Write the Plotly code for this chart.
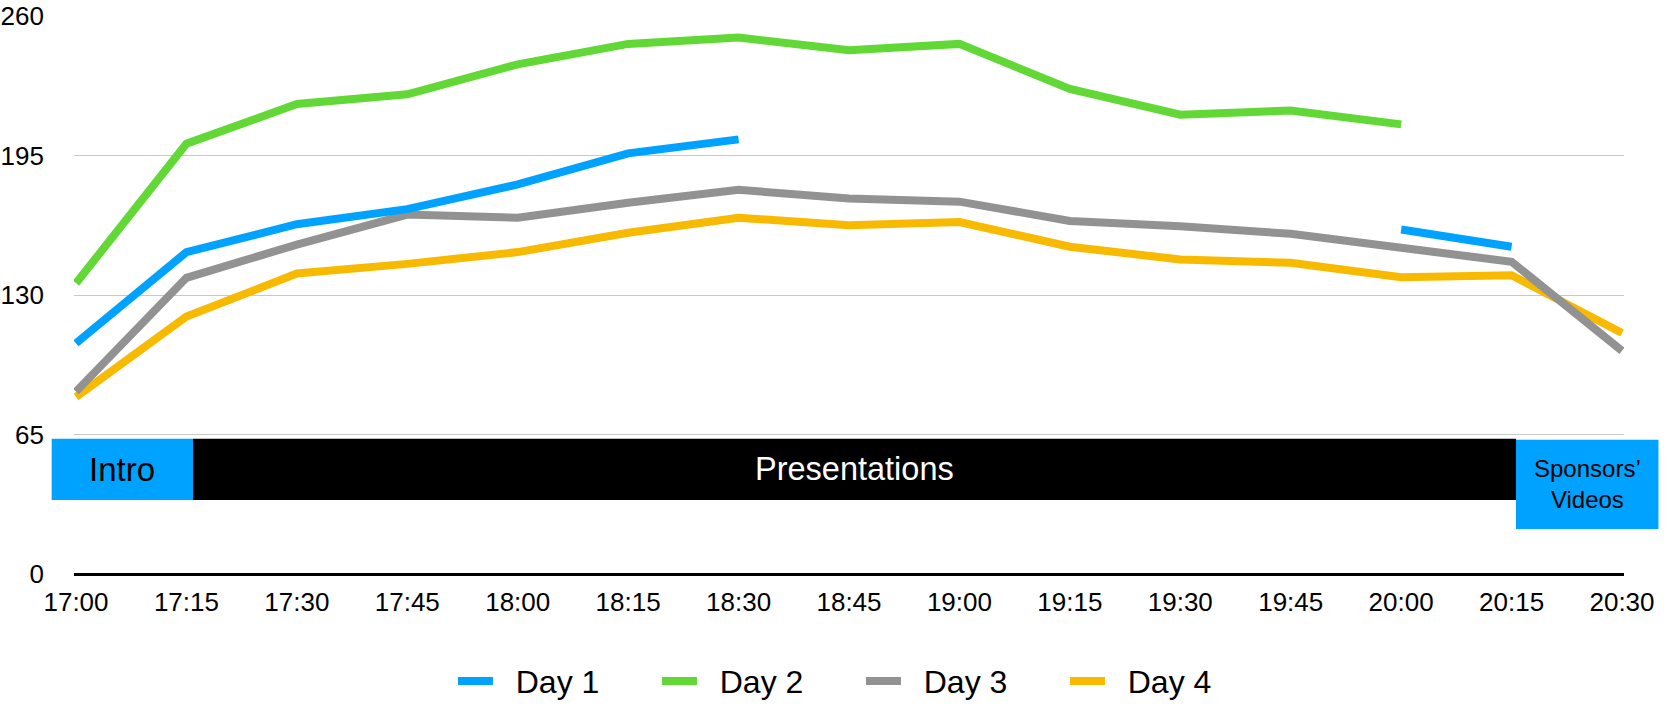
import plotly.graph_objects as go

times = ["17:00", "17:15", "17:30", "17:45", "18:00", "18:15", "18:30", "18:45",
         "19:00", "19:15", "19:30", "19:45", "20:00", "20:15", "20:30"]
day1 = [107.5, 150, 163, 170, 181.5, 196, 202.5, None, None, None, None, None, 160.5, 152.5, None]
day2 = [135.5, 200.5, 219, 223.5, 237.5, 247, 250, 244, 247, 226, 214, 216, 209.5, None, None]
day3 = [85, 138, 153.5, 167.5, 166, 173, 179, 175, 173.5, 164.5, 162, 158.5, 152, 145.5, 104]
day4 = [82.5, 120, 140, 144.5, 150, 159, 166, 162.5, 164, 152.5, 146.5, 145, 138.3, 139.2, 112.3]
y_ticks = [0, 65, 130, 195, 260]

# programme phases (x in time-slot index units)
phase_names = ["Intro", "Presentations", "Sponsors’<br>Videos"]
phase_edges = [-0.22, 1.06, 13.04, 14.33]
phase_top = [63, 63, 62.5]
phase_bottom = [34.5, 34.5, 21]
phase_fill = ["#00A2FF", "#000000", "#00A2FF"]
phase_text_color = ["#000000", "#FFFFFF", "#000000"]
phase_text_size = [33, 32.5, 24]

series = [("Day 4", day4, "#F8BA00"), ("Day 3", day3, "#929292"),
          ("Day 2", day2, "#61D836"), ("Day 1", day1, "#00A2FF")]

FONT = "Liberation Sans, Arial, Helvetica, sans-serif"
XR = [-0.018, len(times) - 1 + 0.018]
YR = [0, 260]
NB = "\u00a0\u00a0"

fig = go.Figure()
for name, vals, col in series:
    fig.add_trace(go.Scatter(x=list(range(len(times))), y=vals, name=NB + name, mode="lines",
                             line=dict(color=col, width=8), connectgaps=False,
                             hoverinfo="skip"))

def xd(v):
    return (v - XR[0]) / (XR[1] - XR[0])

def yd(v):
    return (v - YR[0]) / (YR[1] - YR[0])

for i, nm in enumerate(phase_names):
    x0, x1 = phase_edges[i], phase_edges[i + 1]
    fig.add_shape(type="rect", xref="x domain", yref="y domain",
                  x0=xd(x0), x1=xd(x1), y0=yd(phase_bottom[i]), y1=yd(phase_top[i]),
                  fillcolor=phase_fill[i], line=dict(width=0), layer="above")
    fig.add_annotation(xref="x domain", yref="y domain",
                       x=xd((x0 + x1) / 2), y=yd((phase_bottom[i] + phase_top[i]) / 2),
                       text=nm, showarrow=False, xanchor="center", yanchor="middle",
                       font=dict(family=FONT, size=phase_text_size[i], color=phase_text_color[i]))

fig.update_layout(
    template="none",
    width=1680, height=707, autosize=False,
    margin=dict(l=74, r=56, t=16, b=133, autoexpand=False),
    paper_bgcolor="white", plot_bgcolor="white",
    font=dict(family=FONT, color="#000000"),
    showlegend=True,
    legend=dict(orientation="h", x=0.2445, xanchor="left", y=-0.192, yanchor="middle",
                traceorder="reversed", font=dict(size=32, family=FONT),
                itemwidth=35, entrywidth=154, entrywidthmode="pixels",
                bgcolor="rgba(0,0,0,0)", borderwidth=0),
    xaxis=dict(range=XR, tickvals=list(range(len(times))), ticktext=times,
               showgrid=False, zeroline=False, showline=False, ticks="", automargin=False,
               tickfont=dict(size=26, family=FONT), ticklabelstandoff=10),
    yaxis=dict(range=YR, tickvals=y_ticks, showgrid=True, gridcolor="#C8C8C8", gridwidth=1.2,
               zeroline=True, zerolinecolor="#000000", zerolinewidth=2.5, automargin=False,
               ticks="", tickfont=dict(size=26, family=FONT), ticklabelstandoff=29),
)

fig.write_html("out.html", config={"displayModeBar": False},
               post_script="document.body.style.margin='0';")
